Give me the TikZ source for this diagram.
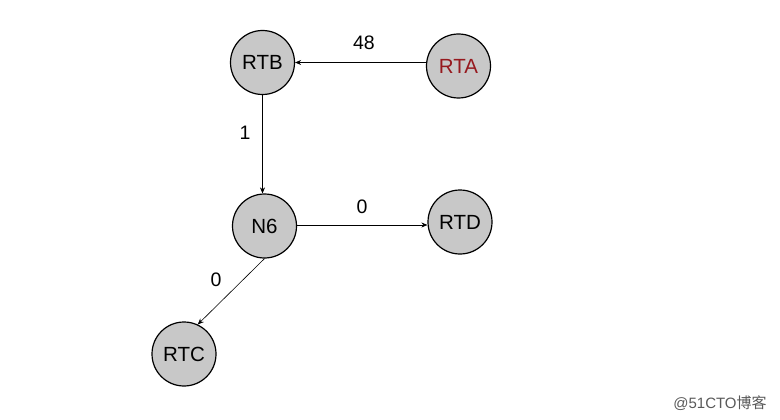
\documentclass[tikz,border=0pt]{standalone}
\usepackage{fontspec}
\setmainfont{Liberation Sans}
\newfontfamily\cjk{Noto Sans CJK SC}
\usetikzlibrary{arrows.meta}
\definecolor{nodegray}{RGB}{200,200,200}
\definecolor{darkred}{RGB}{150,25,30}
\begin{document}
\begin{tikzpicture}[x=1pt,y=-1pt,
  router/.style={circle,draw=black,line width=1.2pt,fill=nodegray,minimum size=64pt,inner sep=0pt,font=\fontsize{20.5}{24}\selectfont},
  link/.style={-{Stealth[length=6pt,width=5pt]},line width=0.6pt},
  lbl/.style={font=\fontsize{19.5}{22}\selectfont}]
\useasboundingbox (0,0) rectangle (780,420);
\node[router] (RTB) at (262.5,62.5) {RTB};
\node[router,text=darkred] (RTA) at (458.5,66) {RTA};
\node[router] (N6) at (264.5,226) {N6};
\node[router] (RTD) at (460,222) {RTD};
\node[router] (RTC) at (184,354) {RTC};
\draw[link] (RTA.west |- RTB.east) -- (RTB.east);
\draw[link] (RTB.south) -- (RTB.south |- N6.north);
\draw[link] (N6.east |- 0,225) -- (RTD.west |- 0,225);
\draw[link] (N6.south) -- (RTC.65);
\node[lbl] (l48) at (364,43) {48};
\node[lbl] (l1) at (245,133) {1};
\node[lbl] (l0a) at (362,207) {0};
\node[lbl] (l0b) at (216,280) {0};
\node[text=black!65,font=\fontsize{15}{17}\selectfont] (wm) at (720,403) {@51CTO{\cjk 博客}};
\end{tikzpicture}
\end{document}
